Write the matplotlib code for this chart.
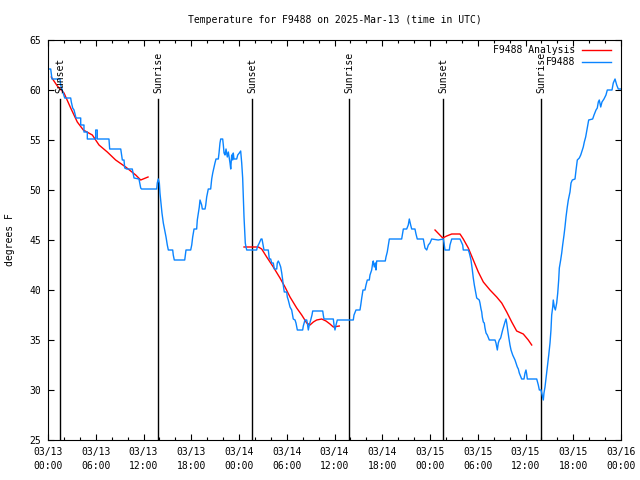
import numpy as np
import matplotlib
matplotlib.use("Agg")
import matplotlib.pyplot as plt
from matplotlib.ticker import MultipleLocator
import pandas as pd

# --- data: hours since 2025-03-13 00:00 UTC, temperature in F ---
obs_hours = [
    0, 0.34, 0.50, 1.51, 1.59, 2.10, 2.85, 2.93, 3.10, 3.27, 3.52, 4.11, 4.11, 4.52, 4.52, 4.94,
    4.94, 5.99, 5.99, 6.19, 6.19, 7.66, 7.75, 9.14, 9.34, 9.55, 9.64, 9.89, 10.59, 10.81, 11.43,
    11.65, 11.75, 13.66, 13.73, 13.86, 13.99, 14.07, 14.20, 14.32, 14.49, 14.66, 14.83, 14.99,
    15.12, 15.67, 15.74, 15.87, 17.18, 17.34, 17.93, 18.06, 18.18, 18.35, 18.68, 18.76, 18.89,
    19.01, 19.10, 19.31, 19.39, 19.73, 19.82, 19.94, 20.07, 20.14, 20.44, 20.57, 20.70, 20.86,
    20.98, 21.11, 21.40, 21.49, 21.61, 21.70, 21.95, 22.03, 22.12, 22.24, 22.37, 22.53, 22.66,
    22.87, 22.96, 23.08, 23.21, 23.28, 23.37, 23.71, 23.84, 24.04, 24.21, 24.34, 24.46, 24.54,
    24.63, 24.71, 24.79, 24.88, 24.97, 26.22, 26.30, 26.55, 26.77, 26.89, 26.98, 27.14, 27.68,
    27.81, 27.98, 28.11, 28.31, 28.44, 28.74, 28.81, 28.94, 29.06, 29.24, 29.37, 29.49, 29.56,
    29.69, 29.99, 30.07, 30.19, 30.41, 30.62, 30.82, 31.04, 31.16, 31.33, 32.00, 32.08, 32.29,
    32.51, 32.58, 32.71, 32.83, 33.01, 33.17, 33.26, 34.52, 34.59, 34.68, 35.85, 35.94, 36.06,
    36.19, 36.35, 38.36, 38.45, 38.70, 39.20, 39.30, 39.42, 39.58, 39.83, 39.96, 40.12, 40.37,
    40.46, 40.67, 40.80, 40.87, 41.00, 41.13, 41.21, 41.30, 42.38, 42.47, 42.63, 42.89, 44.44,
    44.57, 44.65, 45.07, 45.27, 45.40, 45.57, 45.70, 46.11, 46.24, 46.40, 47.16, 47.25, 47.37,
    47.59, 47.79, 48.00, 48.21, 49.04, 49.67, 49.76, 49.88, 50.43, 50.51, 50.73, 51.77, 52.11,
    52.18, 52.81, 52.94, 53.15, 53.24, 53.32, 53.44, 53.57, 53.69, 53.87, 54.19, 54.28, 54.41,
    54.50, 54.57, 54.70, 54.82, 54.91, 55.04, 55.20, 55.45, 56.17, 56.29, 56.46, 56.58, 56.71,
    56.88, 57.13, 57.42, 57.55, 57.64, 57.76, 57.89, 58.05, 58.18, 58.39, 58.68, 58.97, 59.10,
    59.22, 59.52, 59.81, 59.94, 60.06, 60.15, 60.23, 61.41, 61.61, 61.74, 61.95, 62.24, 62.32,
    62.45, 62.66, 62.79, 62.92, 63.08, 63.20, 63.29, 63.42, 63.49, 63.62, 63.75, 63.92, 64.05,
    64.17, 64.25, 64.42, 64.55, 64.67, 64.84, 64.96, 65.09, 65.25, 65.38, 65.59, 65.72, 65.88,
    66.22, 66.35, 66.51, 66.76, 66.94, 67.06, 67.26, 67.39, 67.56, 67.76, 67.94, 68.44, 68.61,
    68.86, 69.02, 69.15, 69.27, 69.45, 69.61, 69.86, 70.11, 70.28, 70.87, 71.03, 71.25, 71.46,
    71.66, 71.96,
]
obs_temps = [
    62.1, 62.1, 61.1, 61.1, 60.5, 59.2, 59.2, 58.8, 58.2, 58.0, 57.2, 57.2, 56.5, 56.5, 55.8, 55.8,
    55.1, 55.1, 56.0, 56.0, 55.1, 55.1, 54.1, 54.1, 53.0, 53.0, 52.2, 52.1, 52.1, 51.2, 51.1,
    50.2, 50.1, 50.1, 50.7, 51.1, 50.7, 49.7, 48.7, 47.7, 46.7, 46.0, 45.3, 44.5,
    44.0, 44.0, 43.5, 43.0, 43.0, 44.0, 44.0, 44.5, 45.3, 46.1, 46.1, 47.0, 47.7,
    48.3, 49.0, 48.5, 48.1, 48.1, 48.5, 49.3, 49.8, 50.1, 50.1, 51.1, 51.7, 52.3,
    52.7, 53.1, 53.1, 53.7, 54.7, 55.1, 55.1, 54.5, 53.7, 53.5, 54.1, 53.3, 53.8,
    52.7, 52.1, 53.5, 53.0, 53.7, 53.1, 53.1, 53.5, 53.7, 53.9, 52.7, 51.2, 49.3,
    47.3, 46.0, 44.7, 44.3, 44.0, 44.0, 44.3, 44.7, 45.1, 45.1, 44.7, 44.0, 44.0,
    43.1, 43.1, 42.7, 42.7, 42.1, 42.1, 42.7, 42.9, 42.7, 42.3, 41.7, 41.0, 40.5,
    39.8, 39.8, 39.3, 39.0, 38.3, 38.0, 37.1, 37.0, 36.7, 36.0, 36.0, 36.4, 37.0,
    37.0, 36.7, 36.0, 36.5, 37.0, 37.5, 37.9, 37.9, 37.5, 37.1, 37.1, 36.5, 36.0,
    36.5, 37.0, 37.0, 37.5, 38.0, 38.0, 38.5, 39.2, 40.0, 40.0, 40.5, 41.0, 41.0,
    41.5, 42.0, 42.7, 42.9, 42.3, 42.7, 42.0, 42.9, 42.9, 43.3, 43.8, 45.1, 45.1,
    45.7, 46.1, 46.1, 46.5, 47.1, 46.5, 46.1, 46.1, 45.6, 45.1, 45.1, 44.7, 44.2,
    44.0, 44.5, 44.7, 45.1, 45.0, 45.1, 44.7, 44.0, 44.0, 44.5, 45.1, 45.1, 44.5,
    44.0, 44.0, 43.7, 43.0, 42.5, 42.0, 41.2, 40.5, 40.0, 39.2, 39.0, 38.7, 38.1,
    37.8, 37.3, 36.8, 36.7, 36.2, 35.7, 35.5, 35.0, 35.0, 34.7, 34.0, 34.7, 35.0,
    35.2, 36.0, 36.8, 37.1, 36.7, 36.0, 35.3, 34.5, 34.0, 33.5, 33.0, 32.3, 32.1,
    31.7, 31.1, 31.1, 31.7, 32.0, 31.6, 31.1, 31.1, 30.5, 30.0, 30.0, 29.0, 29.7,
    30.3, 31.7, 32.5, 33.5, 34.7, 36.0, 37.5, 38.3, 39.0, 38.3, 38.0, 38.7, 39.7,
    41.0, 42.2, 43.0, 43.7, 44.5, 45.5, 46.3, 47.3, 48.3, 49.0, 49.8, 50.7, 51.0,
    51.1, 52.0, 53.0, 53.2, 53.5, 53.8, 54.3, 54.8, 55.3, 56.2, 57.0, 57.1, 57.5,
    58.0, 58.2, 58.8, 59.0, 58.3, 58.8, 59.1, 59.5, 60.0, 60.0, 60.7, 61.1, 60.5,
    60.1, 60.1,
]

# analysis curve comes in three separate pieces
ana1_hours = [0.41, 1.17, 2.01, 2.85, 3.68, 4.44, 5.57, 6.41, 7.45, 8.50, 9.76, 11.02, 11.65, 12.57]
ana1_temps = [61.3, 60.4, 59.7, 58.2, 56.8, 56.0, 55.5, 54.5, 53.8, 53.0, 52.3, 51.5, 51.0, 51.3]
ana2_hours = [24.63, 26.43, 26.85, 27.48, 28.31, 29.15, 29.78, 30.41, 31.25, 31.88, 32.51, 32.92,
              33.34, 33.76, 34.39, 34.93, 35.43, 35.85, 36.60]
ana2_temps = [44.3, 44.3, 44.1, 43.3, 42.3, 41.2, 40.3, 39.3, 38.2, 37.5, 36.7, 36.5,
              36.8, 37.0, 37.1, 36.9, 36.6, 36.3, 36.4]
ana3_hours = [48.63, 49.60, 50.10, 50.73, 51.77, 52.18, 52.81, 53.44, 54.07, 54.70, 55.54, 56.38,
              57.01, 57.64, 58.27, 58.89, 59.72, 60.35, 60.78]
ana3_temps = [46.0, 45.2, 45.4, 45.6, 45.6, 45.1, 44.2, 43.0, 41.8, 40.8, 40.0, 39.3,
              38.7, 37.8, 36.8, 35.9, 35.6, 35.0, 34.5]

sun_hours = [1.55, 13.84, 25.66, 37.84, 49.67, 62.0]
sun_labels = ["Sunset", "Sunrise", "Sunset", "Sunrise", "Sunset", "Sunrise"]

start = pd.Timestamp("2025-03-13 00:00")
tick_hours = list(range(0, 73, 6))
tick_labels = [(start + pd.Timedelta(hours=h)).strftime("%m/%d\n%H:%M") for h in tick_hours]

FONT = "DejaVu Sans Mono"
FS = 7
plt.rcParams["font.family"] = FONT
plt.rcParams["font.size"] = FS

fig = plt.figure(figsize=(6.4, 4.8), dpi=100)
ax = fig.add_axes([48 / 640, 40 / 480, 573 / 640, 400 / 480])

for h, lab in zip(sun_hours, sun_labels):
    ax.axvline(h, ymin=0, ymax=0.853, color="black", lw=1)
    ax.text(h, 0.868, lab, transform=ax.get_xaxis_transform(), rotation=90,
            ha="center", va="bottom", fontsize=FS)

ax.plot(ana1_hours, ana1_temps, color="#ff0000", lw=1, label="F9488 Analysis")
ax.plot(ana2_hours, ana2_temps, color="#ff0000", lw=1)
ax.plot(ana3_hours, ana3_temps, color="#ff0000", lw=1)
ax.plot(obs_hours, obs_temps, color="#0a84ff", lw=1, label="F9488")

ax.set_xlim(0, 72)
ax.set_ylim(25, 65)
ax.set_xticks(tick_hours)
ax.set_xticklabels(tick_labels)
for t in ax.get_xticklabels():
    t.set_linespacing(1.45)
ax.xaxis.set_minor_locator(MultipleLocator(2))
ax.yaxis.set_major_locator(MultipleLocator(5))
ax.tick_params(which="both", direction="in", top=True, right=True)
ax.tick_params(which="major", length=4, width=0.8)
ax.tick_params(which="minor", length=2.2, width=0.8)
ax.tick_params(axis="x", pad=5)
ax.tick_params(axis="y", pad=5)

ax.set_ylabel("degrees F")
ax.yaxis.set_label_coords(-0.058, 0.5)
ax.set_title("Temperature for F9488 on 2025-Mar-13 (time in UTC)", fontsize=FS, pad=12)

ax.legend(loc="upper right", frameon=False, markerfirst=False, handlelength=3,
          handletextpad=0.7, borderpad=0, borderaxespad=0, labelspacing=0.25,
          bbox_to_anchor=(1 - 10 / 573, 1 - 5 / 400), fontsize=FS)

fig.savefig("out.png", dpi=100)
